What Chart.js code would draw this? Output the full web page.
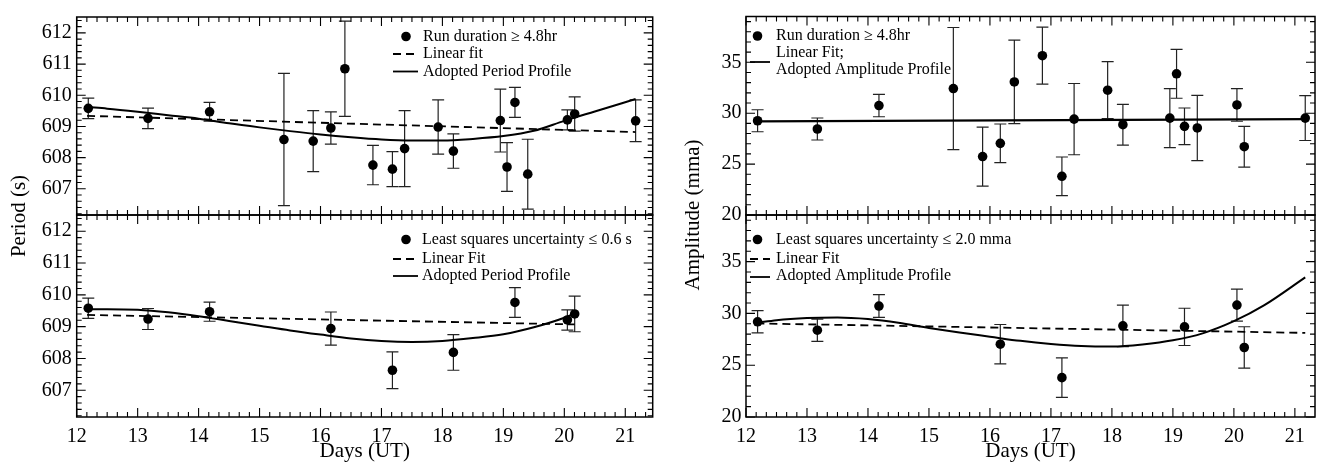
<!DOCTYPE html>
<html>
<head>
<meta charset="utf-8">
<title>Period and amplitude vs days</title>
<style>
  body { margin: 0; background: #fff; }
  #wrap { position: relative; width: 1318px; height: 462px; overflow: hidden; }
  canvas { position: absolute; top: 0; }
</style>
<script src="https://cdn.jsdelivr.net/npm/chart.js@4.4.0/dist/chart.umd.min.js"></script>
</head>
<body>
<div id="wrap">
  <canvas id="periodBottom" width="660" height="462" style="left:0px"></canvas>
  <canvas id="periodTop" width="660" height="462" style="left:0px"></canvas>
  <canvas id="ampBottom" width="658" height="462" style="left:660px"></canvas>
  <canvas id="ampTop" width="658" height="462" style="left:660px"></canvas>
</div>
<script>
// tick labels
const xTickDays = [12, 13, 14, 15, 16, 17, 18, 19, 20, 21];
const periodTicks = [607, 608, 609, 610, 611, 612];
const ampTicks = [20, 25, 30, 35];

// runs of duration >= 4.8 hr
const runDays = [12.19, 13.17, 14.18, 15.40, 15.88, 16.17, 16.40, 16.86, 17.18, 17.38,
                 17.93, 18.18, 18.95, 19.06, 19.19, 19.40, 20.05, 20.17, 21.17];
const runPeriod = [609.58, 609.26, 609.47, 608.58, 608.53, 608.95, 610.85, 607.76, 607.63, 608.29,
                   608.98, 608.21, 609.19, 607.70, 609.77, 607.47, 609.21, 609.40, 609.18];
const runPeriodErr = [0.33, 0.33, 0.30, 2.12, 0.98, 0.52, 1.53, 0.63, 0.56, 1.22,
                      0.87, 0.55, 1.01, 0.78, 0.48, 1.12, 0.32, 0.55, 0.67];
const runAmp = [29.26, 28.45, 30.75, 32.42, 25.74, 27.04, 33.07, 35.65, 23.80, 29.42,
                32.26, 28.87, 29.52, 33.87, 28.71, 28.55, 30.81, 26.71, 29.52];
const runAmpErr = [1.08, 1.08, 1.10, 6.00, 2.90, 1.90, 4.10, 2.80, 1.90, 3.50,
                   2.80, 2.00, 2.90, 2.40, 1.80, 3.20, 1.60, 2.00, 2.20];

// runs with small least squares uncertainty
const lsqDays = [12.19, 13.17, 14.18, 16.17, 17.18, 18.18, 19.19, 20.05, 20.17];
const lsqPeriod = [609.58, 609.24, 609.47, 608.94, 607.63, 608.19, 609.76, 609.21, 609.40];
const lsqPeriodErr = [0.32, 0.33, 0.30, 0.52, 0.58, 0.56, 0.47, 0.32, 0.56];
const lsqAmp = [29.19, 28.38, 30.71, 27.03, 23.80, 28.80, 28.70, 30.80, 26.71];
const lsqAmpErr = [1.07, 1.07, 1.10, 1.90, 1.90, 2.00, 1.80, 1.55, 2.00];

// fitted lines
const runFitDays = [12.17, 21.17];
const runPeriodFit = [609.34, 608.82];
const runAmpFit = [29.20, 29.42];
const lsqPeriodFitDays = [12.17, 20.17];
const lsqPeriodFit = [609.37, 609.07];
const lsqAmpFitDays = [12.17, 21.17];
const lsqAmpFit = [29.03, 28.12];

const runProfileDays = [12.19, 12.5, 13, 13.5, 14, 14.5, 15, 15.5, 16, 16.5, 17, 17.5, 18, 18.5, 19, 19.5, 20, 20.5, 21.17];
const runPeriodProfile = [609.62, 609.57, 609.47, 609.36, 609.25, 609.10, 608.97, 608.85, 608.74, 608.65,
                          608.58, 608.55, 608.55, 608.60, 608.69, 608.86, 609.18, 609.48, 609.88];
const lsqPeriodProfileDays = [12.19, 12.5, 13, 13.5, 14, 14.5, 15, 15.5, 16, 16.5, 17, 17.5, 18, 18.5, 19, 19.5, 20, 20.17];
const lsqPeriodProfile = [609.55, 609.55, 609.53, 609.45, 609.33, 609.18, 609.03, 608.88, 608.75, 608.63,
                          608.55, 608.52, 608.55, 608.64, 608.76, 608.98, 609.28, 609.42];
const lsqAmpProfileDays = [12.19, 12.5, 13, 13.5, 14, 14.5, 15, 15.5, 16, 16.5, 17, 17.5, 18, 18.5, 19, 19.5, 20, 20.5, 21.17];
const lsqAmpProfile = [29.10, 29.35, 29.55, 29.60, 29.45, 29.10, 28.60, 28.15, 27.75, 27.35,
                       27.05, 26.85, 26.80, 27.00, 27.40, 28.10, 29.25, 30.80, 33.48];

// legend texts
const periodRunLegend = ['Run duration \u2265 4.8hr', 'Linear fit', 'Adopted Period Profile'];
const periodLsqLegend = ['Least squares uncertainty \u2264 0.6 s', 'Linear Fit', 'Adopted Period Profile'];
const ampRunLegend = ['Run duration \u2265 4.8hr', 'Linear Fit;', 'Adopted Amplitude Profile'];
const ampLsqLegend = ['Least squares uncertainty \u2264 2.0 mma', 'Linear Fit', 'Adopted Amplitude Profile'];

const SERIF = "'Liberation Serif', 'Times New Roman', serif";

function pairs(xs, ys) {
    return xs.map((x, i) => ({ x: x, y: ys[i] }));
}

// frame, inward ticks, error bars, legend and y title
const panelDecor = {
    id: 'panelDecor',
    beforeDatasetsDraw(chart, args, opts) {
        const ctx = chart.ctx, a = chart.chartArea;
        const xs = chart.scales.x, ys = chart.scales.y;
        ctx.save();
        ctx.beginPath();
        ctx.rect(a.left, a.top - 1, a.right - a.left, a.bottom - a.top + 2);
        ctx.clip();
        ctx.strokeStyle = '#222';
        ctx.lineWidth = 1.2;
        chart.data.datasets.forEach(ds => {
            if (!ds.errors) return;
            ds.data.forEach((p, i) => {
                const px = xs.getPixelForValue(p.x);
                const top = ys.getPixelForValue(p.y + ds.errors[i]);
                const bot = ys.getPixelForValue(p.y - ds.errors[i]);
                ctx.beginPath();
                ctx.moveTo(px, top); ctx.lineTo(px, bot);
                ctx.moveTo(px - 6, top); ctx.lineTo(px + 6, top);
                ctx.moveTo(px - 6, bot); ctx.lineTo(px + 6, bot);
                ctx.stroke();
            });
        });
        ctx.restore();
    },
    afterDatasetsDraw(chart, args, opts) {
        const ctx = chart.ctx, a = chart.chartArea;
        const xs = chart.scales.x, ys = chart.scales.y;
        const majLen = 9, minLen = 5;
        ctx.save();
        ctx.strokeStyle = '#000';
        ctx.lineWidth = 1.5;
        ctx.strokeRect(a.left, a.top, a.right - a.left, a.bottom - a.top);

        ctx.lineWidth = 1.1;
        ctx.beginPath();
        const xn = opts.xMinorPerUnit;
        for (let k = Math.ceil(xs.min * xn - 1e-6); k <= Math.floor(xs.max * xn + 1e-6); k++) {
            const v = k / xn;
            const len = xTickDays.some(m => Math.abs(m - v) < 1e-6) ? majLen : minLen;
            const px = xs.getPixelForValue(v);
            ctx.moveTo(px, a.top); ctx.lineTo(px, a.top + len);
            ctx.moveTo(px, a.bottom); ctx.lineTo(px, a.bottom - len);
        }
        const yn = opts.yMinorPerUnit;
        for (let k = Math.ceil(ys.min * yn - 1e-6); k <= Math.floor(ys.max * yn + 1e-6); k++) {
            const v = k / yn;
            const len = opts.yMajor.some(m => Math.abs(m - v) < 1e-6) ? majLen : minLen;
            const py = ys.getPixelForValue(v);
            ctx.moveTo(a.left, py); ctx.lineTo(a.left + len, py);
            ctx.moveTo(a.right, py); ctx.lineTo(a.right - len, py);
        }
        ctx.stroke();

        // legend
        const off = opts.offsetX;
        const lg = opts.legend;
        ctx.fillStyle = '#000';
        ctx.font = '16px ' + SERIF;
        ctx.textBaseline = 'middle';
        ctx.textAlign = 'left';
        lg.texts.forEach(t => ctx.fillText(t.text, t.x - off, t.y));
        lg.symbols.forEach(s => {
            if (s.type === 'dot') {
                ctx.beginPath();
                ctx.arc(s.x - off, s.y, 4.8, 0, Math.PI * 2);
                ctx.fill();
            } else {
                ctx.beginPath();
                ctx.lineWidth = 1.8;
                ctx.setLineDash(s.type === 'dash' ? [8, 5] : []);
                ctx.moveTo(s.x1 - off, s.y);
                ctx.lineTo(s.x2 - off, s.y);
                ctx.stroke();
                ctx.setLineDash([]);
            }
        });

        if (opts.yTitle) {
            ctx.save();
            ctx.translate(opts.yTitle.x - off, opts.yTitle.y);
            ctx.rotate(-Math.PI / 2);
            ctx.textAlign = 'center';
            ctx.font = '21px ' + SERIF;
            ctx.fillText(opts.yTitle.text, 0, 0);
            ctx.restore();
        }
        ctx.restore();
    }
};

function makePanel(id, o) {
    const datasets = [
        {
            label: o.legendTexts[0],
            data: pairs(o.days, o.values),
            errors: o.errors,
            showLine: false,
            pointRadius: 4.8,
            pointBackgroundColor: '#000',
            pointBorderWidth: 0
        },
        {
            label: o.legendTexts[1],
            data: pairs(o.fitDays, o.fit),
            showLine: true,
            borderColor: '#000',
            borderWidth: o.fitDash ? 1.8 : 2.2,
            borderDash: o.fitDash ? [8, 5] : [],
            pointRadius: 0
        }
    ];
    if (o.profile) {
        datasets.push({
            label: o.legendTexts[2],
            data: pairs(o.profileDays, o.profile),
            showLine: true,
            borderColor: '#000',
            borderWidth: 2,
            cubicInterpolationMode: 'monotone',
            pointRadius: 0
        });
    }

    return new Chart(document.getElementById(id), {
        type: 'scatter',
        data: { datasets: datasets },
        plugins: [panelDecor],
        options: {
            responsive: false,
            animation: false,
            devicePixelRatio: 1,
            layout: { autoPadding: false, padding: o.padding },
            plugins: {
                legend: { display: false },
                tooltip: { enabled: false },
                panelDecor: {
                    offsetX: o.offsetX,
                    xMinorPerUnit: 6,
                    yMinorPerUnit: o.yMinorPerUnit,
                    yMajor: o.yTicks,
                    legend: o.legend,
                    yTitle: o.yTitle
                }
            },
            scales: {
                x: {
                    type: 'linear',
                    min: 12,
                    max: o.xMax,
                    afterBuildTicks: s => { s.ticks = xTickDays.map(v => ({ value: v })); },
                    afterFit: s => { s.height = o.xHeight; },
                    grid: { display: false, drawTicks: false },
                    border: { display: false },
                    ticks: {
                        display: o.showX,
                        color: '#000',
                        padding: 8,
                        maxRotation: 0,
                        autoSkip: false,
                        font: { family: SERIF, size: 20 }
                    },
                    title: {
                        display: o.showX,
                        text: 'Days (UT)',
                        color: '#000',
                        padding: { top: 0, bottom: 0.5 },
                        font: { family: SERIF, size: 21, lineHeight: 1 }
                    }
                },
                y: {
                    type: 'linear',
                    min: o.yMin,
                    max: o.yMax,
                    afterBuildTicks: s => { s.ticks = o.yTicks.map(v => ({ value: v })); },
                    afterFit: s => { s.width = o.yWidth; },
                    grid: { display: false, drawTicks: false },
                    border: { display: false },
                    ticks: {
                        color: '#000',
                        padding: o.yPad,
                        font: { family: SERIF, size: 20 }
                    }
                }
            }
        }
    });
}

const leftCol = { offsetX: 0, xMax: 21.45, yWidth: 76.7, yPad: 5, yMin: 606.16, yMax: 612.51,
                  yTicks: periodTicks, yMinorPerUnit: 5 };
const rightCol = { offsetX: 660, xMax: 21.33, yWidth: 86, yPad: 4.5, yMin: 20, yMax: 39.5,
                   yTicks: ampTicks, yMinorPerUnit: 1 };

makePanel('periodTop', Object.assign({}, leftCol, {
    padding: { top: 14, left: 0, right: 7.3, bottom: 0 },
    xHeight: 247, showX: false,
    days: runDays, values: runPeriod, errors: runPeriodErr,
    fitDays: runFitDays, fit: runPeriodFit, fitDash: true,
    profileDays: runProfileDays, profile: runPeriodProfile,
    legendTexts: periodRunLegend,
    legend: {
        texts: [
            { text: periodRunLegend[0], x: 423, y: 36.5 },
            { text: periodRunLegend[1], x: 423, y: 54 },
            { text: periodRunLegend[2], x: 423, y: 71.5 }
        ],
        symbols: [
            { type: 'dot', x: 406, y: 36.5 },
            { type: 'dash', x1: 393, x2: 418, y: 54 },
            { type: 'line', x1: 393, x2: 418, y: 71.5 }
        ]
    },
    yTitle: { text: 'Period (s)', x: 19, y: 216 }
}));

makePanel('periodBottom', Object.assign({}, leftCol, {
    padding: { top: 215, left: 0, right: 7.3, bottom: 0 },
    xHeight: 45, showX: true,
    days: lsqDays, values: lsqPeriod, errors: lsqPeriodErr,
    fitDays: lsqPeriodFitDays, fit: lsqPeriodFit, fitDash: true,
    profileDays: lsqPeriodProfileDays, profile: lsqPeriodProfile,
    legendTexts: periodLsqLegend,
    legend: {
        texts: [
            { text: periodLsqLegend[0], x: 422, y: 239.5 },
            { text: periodLsqLegend[1], x: 422, y: 259 },
            { text: periodLsqLegend[2], x: 422, y: 276 }
        ],
        symbols: [
            { type: 'dot', x: 406, y: 239.5 },
            { type: 'dash', x1: 393, x2: 418, y: 259 },
            { type: 'line', x1: 393, x2: 418, y: 276 }
        ]
    }
}));

makePanel('ampTop', Object.assign({}, rightCol, {
    padding: { top: 14, left: 0, right: 3, bottom: 0 },
    xHeight: 247, showX: false,
    days: runDays, values: runAmp, errors: runAmpErr,
    fitDays: runFitDays, fit: runAmpFit, fitDash: false,
    legendTexts: ampRunLegend,
    legend: {
        texts: [
            { text: ampRunLegend[0], x: 776, y: 36 },
            { text: ampRunLegend[1], x: 776, y: 53 },
            { text: ampRunLegend[2], x: 776, y: 70 }
        ],
        symbols: [
            { type: 'dot', x: 757.5, y: 36 },
            { type: 'line', x1: 750, x2: 770, y: 62 }
        ]
    },
    yTitle: { text: 'Amplitude (mma)', x: 693, y: 215 }
}));

makePanel('ampBottom', Object.assign({}, rightCol, {
    padding: { top: 215, left: 0, right: 3, bottom: 0 },
    xHeight: 45, showX: true,
    days: lsqDays, values: lsqAmp, errors: lsqAmpErr,
    fitDays: lsqAmpFitDays, fit: lsqAmpFit, fitDash: true,
    profileDays: lsqAmpProfileDays, profile: lsqAmpProfile,
    legendTexts: ampLsqLegend,
    legend: {
        texts: [
            { text: ampLsqLegend[0], x: 776, y: 239.5 },
            { text: ampLsqLegend[1], x: 776, y: 259 },
            { text: ampLsqLegend[2], x: 776, y: 276 }
        ],
        symbols: [
            { type: 'dot', x: 757.5, y: 239.5 },
            { type: 'dash', x1: 750, x2: 770, y: 259 },
            { type: 'line', x1: 750, x2: 770, y: 277 }
        ]
    }
}));
</script>
</body>
</html>
